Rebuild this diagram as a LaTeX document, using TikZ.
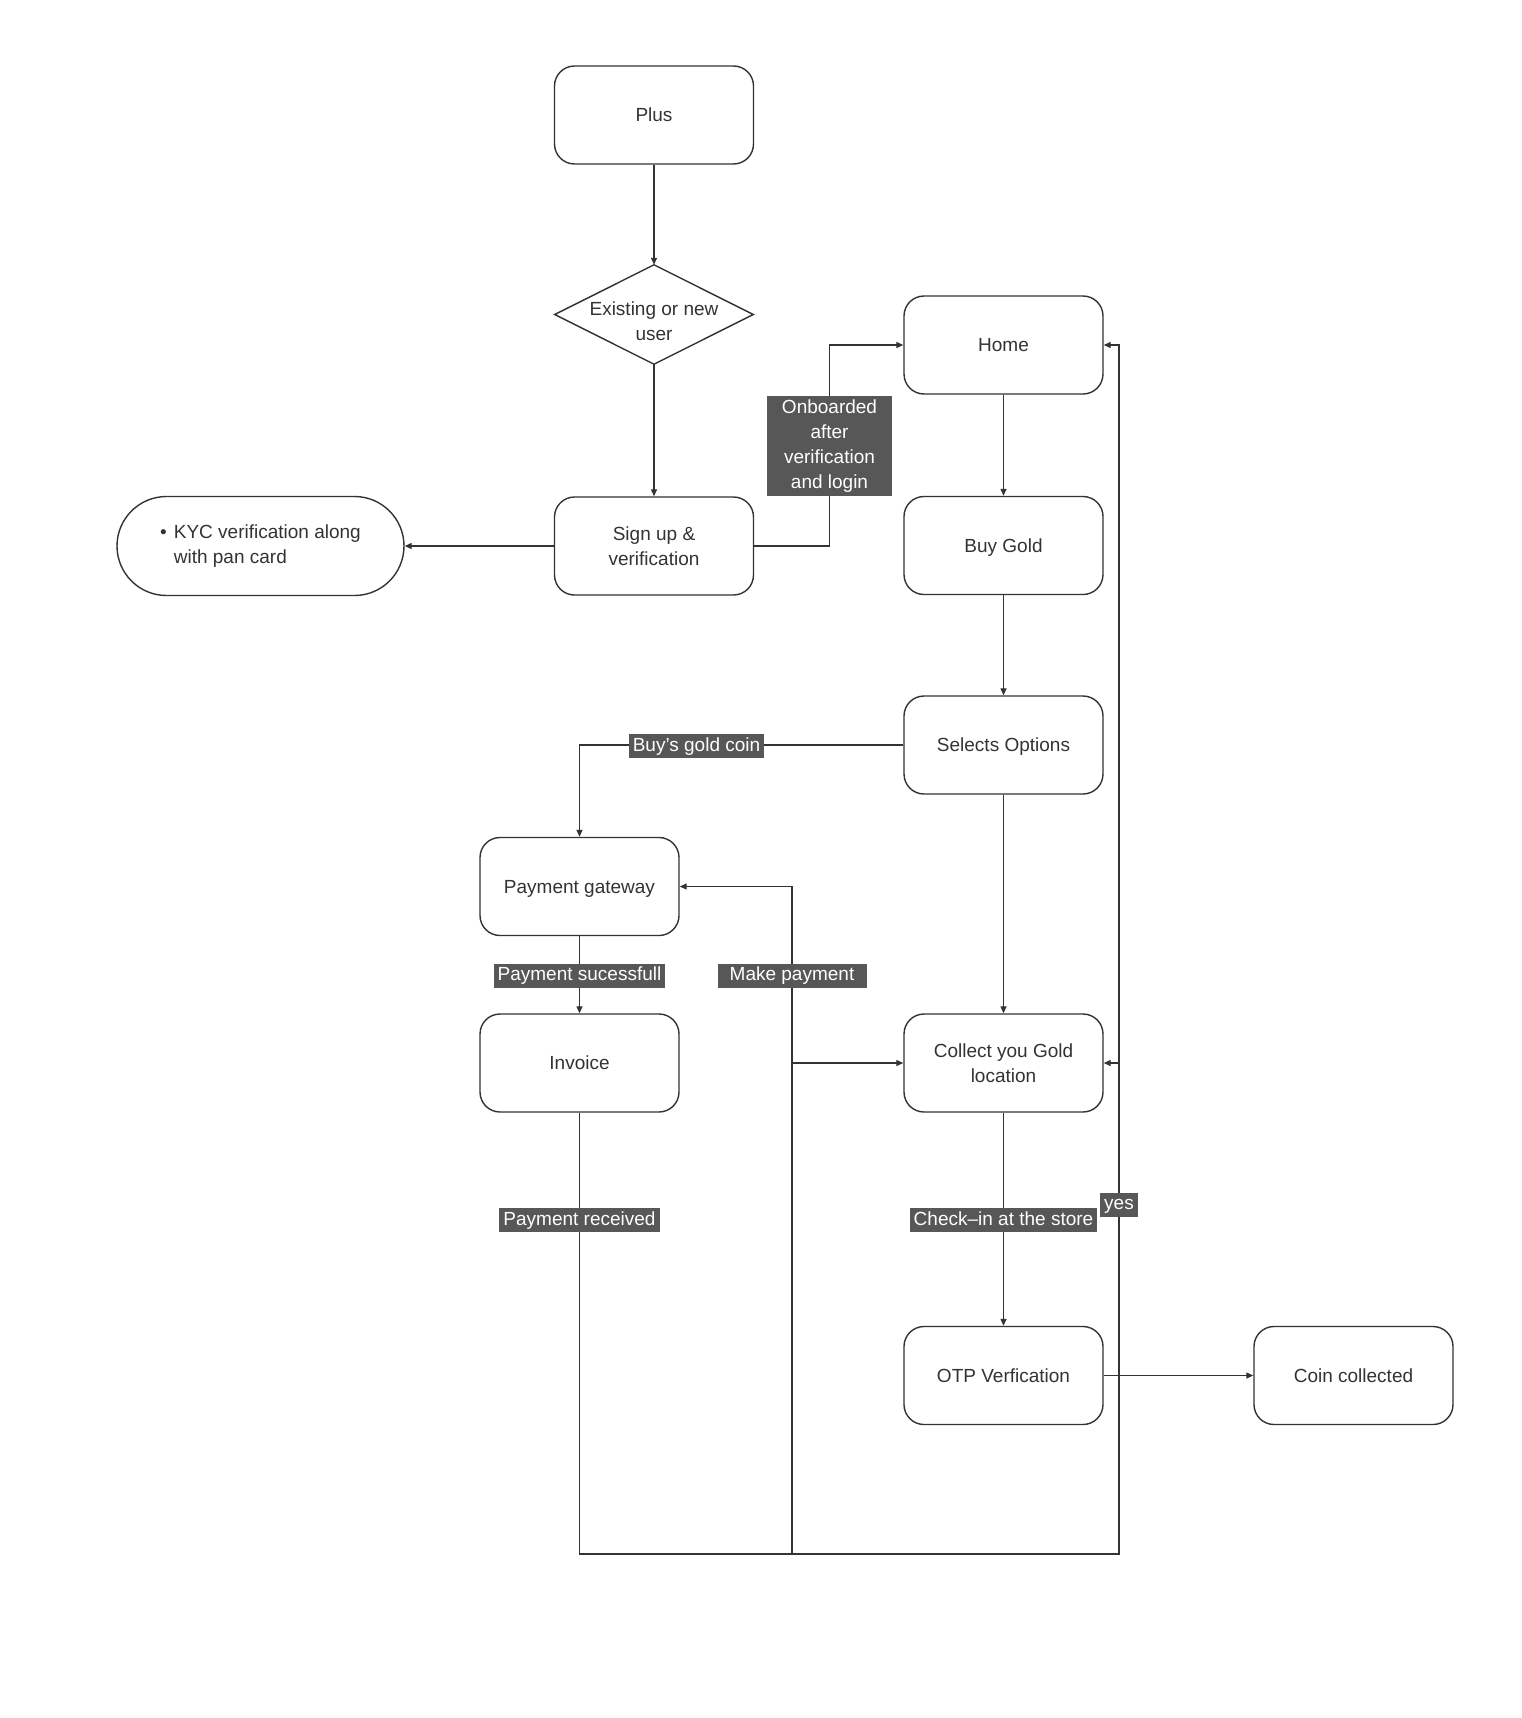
\documentclass[tikz,border=0pt]{standalone}
\usepackage{fontspec}
\setmainfont{Liberation Sans}
\usetikzlibrary{arrows.meta,calc}
\definecolor{ink}{HTML}{333333}
\definecolor{lab}{HTML}{575757}
\begin{document}
\begin{tikzpicture}[x=1pt,y=-1pt,
  font=\fontsize{19}{25}\selectfont,
  box/.style={draw=ink,line width=1.4pt,rounded corners=20pt,minimum width=199pt,minimum height=98pt,align=center,text=ink,inner sep=0pt},
  oneline/.style={text height=15pt,text depth=1.5pt},
  conn/.style={draw=ink,line width=1.3pt},
  arr/.style={conn,-{Triangle[length=7pt,width=6pt]}},
  lbl/.style={fill=lab,text=white,inner xsep=4pt,inner ysep=3pt,text height=14pt,text depth=4pt,align=center}]
\useasboundingbox (0,0) rectangle (1522,1718);
\fill[white] (0,0) rectangle (1522,1718);
% nodes
\node[box,oneline] (plus) at (654,115) {Plus};
\node[minimum width=198pt,minimum height=99pt,inner sep=0pt] (dia) at (654,314.5) {};
\draw[ink,line width=1.4pt] (dia.north) -- (dia.east) -- (dia.south) -- (dia.west) -- cycle;
\node[align=center,text=ink,inner sep=0pt] (diatext) at (654,321) {Existing or new\\user};
\node[box] (sign) at (654,546) {Sign up \&\\verification};
\node[box,minimum width=287pt,minimum height=99pt,rounded corners=49.5pt] (kyc) at (260.5,546)
  {\begin{tabular}{@{}l@{\hspace{7pt}}l@{}}\textbullet & KYC verification along\\ & with pan card\end{tabular}};
\node[box,oneline] (home) at (1003.5,345) {Home};
\node[box,oneline] (buy) at (1003.5,545.5) {Buy Gold};
\node[box,oneline] (sel) at (1003.5,745) {Selects Options};
\node[box,oneline] (pg) at (579.5,886.5) {Payment gateway};
\node[box,oneline] (inv) at (579.5,1063) {Invoice};
\node[box] (col) at (1003.5,1063) {Collect you Gold\\location};
\node[box,oneline] (otp) at (1003.5,1375.5) {OTP Verfication};
\node[box,oneline] (coin) at (1353.5,1375.5) {Coin collected};
% helper coordinates
\coordinate (onb) at (829.5,446);
\coordinate (rt) at (1119,1063);
\coordinate (botR) at (1119,1554);
\coordinate (botL) at (579.5,1554);
\coordinate (mpB) at (792,1554);
\coordinate (mpJ) at (792,1063);
\coordinate (mpL) at (792,975.5);
% connectors
\draw[arr] (plus.south) -- (dia.north);
\draw[arr] (dia.south) -- (sign.north);
\draw[arr] (sign.west) -- (kyc.east);
\draw[arr] (sign.east) -| (onb) |- (home.west);
\draw[arr] (home.south) -- (buy.north);
\draw[arr] (buy.south) -- (sel.north);
\draw[arr] (sel.south) -- (col.north);
\draw[arr] (sel.west) -| (pg.north);
\draw[arr] (pg.south) -- (inv.north);
\draw[arr] (inv.south) -- (botL) -- (botR) |- (home.east);
\draw[arr] (rt) -- (col.east);
\draw[arr] (mpB) |- (pg.east);
\draw[arr] (mpJ) -- (col.west);
\draw[arr] (col.south) -- (otp.north);
\draw[arr] (otp.east) -- (coin.west);
% labels
\node[lbl,minimum width=125pt,minimum height=100pt,text height=,text depth=] (lonb) at (onb) {Onboarded\\after\\verification\\and login};
\node[lbl] (lbuy) at (696.5,746) {Buy’s gold coin};
\node[lbl] (lps) at (579.5,975.5) {Payment sucessfull};
\node[lbl,minimum width=149pt] (lmp) at (mpL) {Make payment};
\node[lbl] (lpr) at (579.5,1220) {Payment received};
\node[lbl] (lci) at (1003.5,1220) {Check–in at the store};
\node[lbl] (lyes) at (1119,1204.5) {yes};
\end{tikzpicture}
\end{document}
